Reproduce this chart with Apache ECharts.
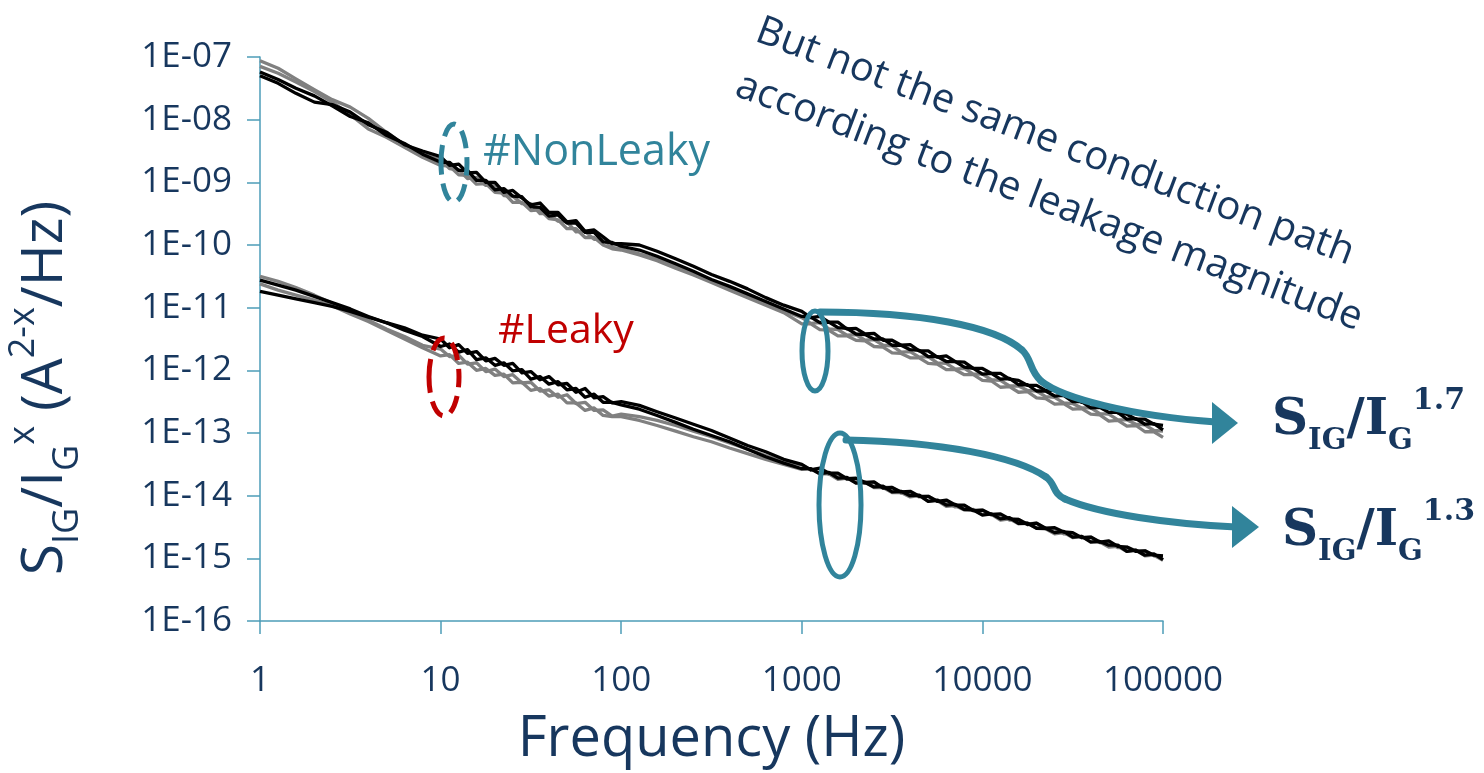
<!DOCTYPE html>
<html>
<head>
<meta charset="utf-8">
<script src="https://cdn.jsdelivr.net/npm/echarts@6/dist/echarts.min.js"></script>
<style>
  html, body { margin: 0; padding: 0; background: #ffffff; }
  #chart { width: 1484px; height: 773px; }
</style>
</head>
<body>
<div id="chart"></div>
<script>
// Frequency grid (Hz) shared by every spectrum
const freqHz = [1, 1.26, 1.58, 2, 2.51, 3.16, 3.98, 5.01, 6.31, 7.94,
  10, 11.2, 12.6, 14.1, 15.8, 17.8, 20, 22.4, 25.1, 28.2, 31.6, 35.5, 39.8, 44.7, 50.1, 56.2, 63.1, 70.8, 79.4, 89.1,
  100, 126, 158, 200, 251, 316, 398, 501, 631, 794,
  1000, 1122, 1259, 1413, 1585, 1778, 1995, 2239, 2512, 2818, 3162, 3548, 3981, 4467, 5012, 5623, 6310, 7079, 7943, 8913,
  10000, 11220, 12589, 14125, 15849, 17783, 19953, 22387, 25119, 28184, 31623, 35481, 39811, 44668, 50119, 56234, 63096, 70795, 79433, 89125, 100000];

// Normalised noise spectra, stored as decade exponents (log10 of S_IG/I_G^x)
// Non-leaky devices, normalised by I_G^1.7
const nonLeakyBlack1 = [-7.30,-7.42,-7.58,-7.72,-7.76,-7.88,-8.08,-8.20,-8.40,-8.50,
  -8.59,-8.73,-8.71,-8.85,-8.84,-9.00,-9.00,-9.16,-9.13,-9.25,-9.36,-9.33,-9.48,-9.48,-9.63,-9.61,-9.78,-9.76,-9.87,-9.98,
  -9.98,-10.00,-10.10,-10.22,-10.34,-10.47,-10.58,-10.70,-10.84,-10.96,
  -11.06,-11.16,-11.14,-11.23,-11.23,-11.34,-11.33,-11.42,-11.41,-11.52,-11.52,-11.60,-11.59,-11.69,-11.69,-11.79,-11.77,-11.86,-11.87,-11.97,
  -11.97,-12.05,-12.05,-12.14,-12.16,-12.24,-12.24,-12.32,-12.32,-12.40,-12.42,-12.51,-12.51,-12.59,-12.59,-12.68,-12.70,-12.78,-12.78,-12.86,-12.88];
const nonLeakyBlack2 = [-7.24,-7.36,-7.50,-7.62,-7.78,-7.95,-8.05,-8.25,-8.38,-8.55,
  -8.68,-8.68,-8.81,-8.81,-8.97,-8.97,-9.12,-9.10,-9.22,-9.23,-9.39,-9.40,-9.54,-9.52,-9.65,-9.65,-9.80,-9.80,-9.95,-9.96,
  -10.02,-10.08,-10.18,-10.30,-10.42,-10.55,-10.66,-10.78,-10.90,-11.02,
  -11.14,-11.15,-11.24,-11.23,-11.32,-11.33,-11.42,-11.43,-11.50,-11.50,-11.60,-11.60,-11.67,-11.68,-11.78,-11.78,-11.86,-11.86,-11.95,-11.97,
  -12.06,-12.05,-12.14,-12.13,-12.23,-12.23,-12.33,-12.33,-12.41,-12.40,-12.50,-12.50,-12.60,-12.59,-12.67,-12.67,-12.78,-12.77,-12.86,-12.85,-12.95];
const nonLeakyGray1 = [-7.06,-7.18,-7.35,-7.52,-7.68,-7.80,-7.98,-8.20,-8.40,-8.55,
  -8.64,-8.78,-8.80,-8.94,-8.92,-9.05,-9.05,-9.21,-9.22,-9.34,-9.34,-9.50,-9.50,-9.62,-9.63,-9.79,-9.78,-9.91,-9.91,-10.04,
  -10.06,-10.14,-10.22,-10.34,-10.46,-10.58,-10.70,-10.82,-10.93,-11.05,
  -11.16,-11.25,-11.24,-11.34,-11.35,-11.44,-11.43,-11.52,-11.51,-11.60,-11.61,-11.71,-11.70,-11.79,-11.78,-11.88,-11.89,-11.98,-11.97,-12.06,
  -12.06,-12.15,-12.16,-12.25,-12.25,-12.32,-12.33,-12.42,-12.43,-12.52,-12.53,-12.60,-12.60,-12.69,-12.70,-12.79,-12.79,-12.86,-12.87,-12.96,-12.97];
const nonLeakyGray2 = [-7.15,-7.26,-7.40,-7.55,-7.72,-7.92,-8.15,-8.28,-8.44,-8.60,
  -8.73,-8.74,-8.88,-8.89,-9.03,-9.02,-9.16,-9.17,-9.32,-9.32,-9.45,-9.44,-9.58,-9.60,-9.74,-9.74,-9.88,-9.88,-10.00,-10.06,
  -10.08,-10.16,-10.25,-10.37,-10.48,-10.60,-10.72,-10.84,-10.96,-11.08,
  -11.26,-11.26,-11.35,-11.36,-11.45,-11.45,-11.52,-11.53,-11.62,-11.63,-11.72,-11.73,-11.80,-11.80,-11.89,-11.90,-11.99,-11.99,-12.07,-12.07,
  -12.16,-12.17,-12.27,-12.26,-12.35,-12.34,-12.44,-12.45,-12.54,-12.53,-12.62,-12.61,-12.70,-12.71,-12.81,-12.80,-12.89,-12.88,-12.98,-12.98,-13.07];

// Leaky devices, normalised by I_G^1.3
const leakyBlack1 = [-10.56,-10.64,-10.72,-10.82,-10.92,-11.02,-11.14,-11.24,-11.32,-11.44,
  -11.50,-11.64,-11.59,-11.73,-11.70,-11.85,-11.81,-11.92,-11.89,-12.04,-12.02,-12.15,-12.10,-12.23,-12.21,-12.35,-12.29,-12.44,-12.42,-12.52,
  -12.50,-12.56,-12.66,-12.76,-12.86,-12.96,-13.08,-13.20,-13.30,-13.42,
  -13.50,-13.59,-13.56,-13.64,-13.64,-13.73,-13.72,-13.79,-13.78,-13.88,-13.87,-13.94,-13.93,-14.01,-14.01,-14.09,-14.07,-14.15,-14.15,-14.24,
  -14.23,-14.30,-14.29,-14.37,-14.38,-14.46,-14.44,-14.52,-14.51,-14.58,-14.59,-14.67,-14.66,-14.74,-14.72,-14.81,-14.82,-14.89,-14.88,-14.95,-14.96];
const leakyBlack2 = [-10.74,-10.80,-10.86,-10.92,-10.98,-11.06,-11.15,-11.24,-11.36,-11.46,
  -11.62,-11.58,-11.71,-11.67,-11.83,-11.80,-11.92,-11.88,-12.01,-11.99,-12.14,-12.10,-12.22,-12.18,-12.31,-12.29,-12.43,-12.38,-12.51,-12.51,
  -12.55,-12.62,-12.72,-12.83,-12.94,-13.04,-13.14,-13.26,-13.38,-13.48,
  -13.57,-13.57,-13.65,-13.63,-13.72,-13.71,-13.80,-13.79,-13.86,-13.85,-13.94,-13.93,-14.00,-13.99,-14.09,-14.07,-14.15,-14.14,-14.22,-14.23,
  -14.31,-14.29,-14.37,-14.35,-14.44,-14.44,-14.52,-14.52,-14.59,-14.57,-14.66,-14.65,-14.74,-14.73,-14.79,-14.79,-14.89,-14.87,-14.95,-14.93,-15.02];
const leakyGray1 = [-10.50,-10.58,-10.68,-10.80,-10.93,-11.06,-11.20,-11.34,-11.46,-11.60,
  -11.66,-11.78,-11.76,-11.90,-11.88,-12.02,-11.98,-12.10,-12.07,-12.20,-12.19,-12.33,-12.31,-12.43,-12.39,-12.53,-12.51,-12.64,-12.63,-12.73,
  -12.70,-12.74,-12.80,-12.88,-12.97,-13.06,-13.16,-13.26,-13.36,-13.46,
  -13.51,-13.59,-13.57,-13.66,-13.67,-13.74,-13.73,-13.80,-13.79,-13.87,-13.87,-13.96,-13.95,-14.02,-14.01,-14.09,-14.10,-14.18,-14.16,-14.24,
  -14.23,-14.31,-14.31,-14.39,-14.38,-14.45,-14.44,-14.53,-14.53,-14.61,-14.61,-14.67,-14.66,-14.75,-14.74,-14.83,-14.82,-14.88,-14.88,-14.96,-14.96];
const leakyGray2 = [-10.62,-10.72,-10.80,-10.88,-10.97,-11.10,-11.22,-11.36,-11.50,-11.64,
  -11.77,-11.75,-11.89,-11.87,-12.00,-11.97,-12.08,-12.06,-12.20,-12.19,-12.32,-12.29,-12.41,-12.38,-12.52,-12.52,-12.64,-12.60,-12.72,-12.74,
  -12.74,-12.80,-12.88,-12.97,-13.06,-13.14,-13.24,-13.33,-13.42,-13.50,
  -13.58,-13.57,-13.65,-13.65,-13.74,-13.72,-13.79,-13.78,-13.87,-13.87,-13.95,-13.95,-14.02,-14.00,-14.09,-14.08,-14.17,-14.16,-14.23,-14.22,
  -14.30,-14.30,-14.39,-14.37,-14.45,-14.44,-14.52,-14.53,-14.61,-14.59,-14.67,-14.65,-14.73,-14.74,-14.82,-14.81,-14.89,-14.87,-14.96,-14.95,-15.03];

// Axis tick labels
const xTickLabels = ['1', '10', '100', '1000', '10000', '100000'];
const yTickLabels = ['1E-07', '1E-08', '1E-09', '1E-10', '1E-11', '1E-12', '1E-13', '1E-14', '1E-15', '1E-16'];

const NAVY = '#17375E';
const TEAL = '#31849B';
const AXIS = '#4D9DB8';
const RED = '#C00000';
const FONT = "'Open Sans', 'Noto Sans', sans-serif";
const SERIF = "'DejaVu Serif', 'Liberation Serif', serif";

function toPoints(exps) {
  return freqHz.map((f, i) => [f, Math.pow(10, exps[i])]);
}

function spectrum(name, exps, color) {
  return {
    name: name,
    type: 'line',
    data: toPoints(exps),
    showSymbol: false,
    symbol: 'none',
    smooth: false,
    lineStyle: { color: color, width: 3.3, join: 'round' },
    emphasis: { disabled: true },
    animation: false
  };
}

const series = [
  spectrum('NonLeaky G1', nonLeakyGray1, '#808080'),
  spectrum('NonLeaky G2', nonLeakyGray2, '#808080'),
  spectrum('Leaky G1', leakyGray1, '#808080'),
  spectrum('Leaky G2', leakyGray2, '#808080'),
  spectrum('NonLeaky B1', nonLeakyBlack1, '#000000'),
  spectrum('NonLeaky B2', nonLeakyBlack2, '#000000'),
  spectrum('Leaky B1', leakyBlack1, '#000000'),
  spectrum('Leaky B2', leakyBlack2, '#000000')
];

// one cubic segment of a callout leader
function leader(p0, c1, c2, p1) {
  return {
    type: 'bezierCurve', z: 100,
    shape: { x1: p0[0], y1: p0[1], cpx1: c1[0], cpy1: c1[1], cpx2: c2[0], cpy2: c2[1], x2: p1[0], y2: p1[1] },
    style: { fill: null, stroke: TEAL, lineWidth: 7, lineCap: 'round' }
  };
}

function formulaLabel(x, y, power) {
  return {
    type: 'text', x: x, y: y, z: 100,
    style: {
      text: '{m|S}{sb|IG}{m|/I}{sb|G}{sp|' + power + '}',
      align: 'left', verticalAlign: 'middle',
      rich: {
        m: { fontFamily: SERIF, fontWeight: 'bold', fontSize: 50, lineHeight: 70, fill: NAVY },
        sb: { fontFamily: SERIF, fontWeight: 'bold', fontSize: 29, lineHeight: 29, verticalAlign: 'bottom', fill: NAVY },
        sp: { fontFamily: SERIF, fontWeight: 'bold', fontSize: 30, lineHeight: 58, verticalAlign: 'top', fill: NAVY }
      }
    }
  };
}

const chart = echarts.init(document.getElementById('chart'), null, { renderer: 'canvas' });

const option = {
  backgroundColor: '#ffffff',
  animation: false,
  grid: { left: 260, right: 321, top: 57, bottom: 151, containLabel: false },
  xAxis: {
    type: 'log',
    logBase: 10,
    min: 1,
    max: 100000,
    splitNumber: 5,
    name: 'Frequency (Hz)',
    nameLocation: 'middle',
    nameGap: 119,
    nameTextStyle: { fontFamily: FONT, fontSize: 56, color: NAVY, verticalAlign: 'middle' },
    axisLine: { show: true, lineStyle: { color: AXIS, width: 1.5 } },
    axisTick: { show: true, inside: false, length: 13, lineStyle: { color: AXIS, width: 1.5 } },
    minorTick: { show: false },
    splitLine: { show: false },
    axisLabel: {
      margin: 43,
      fontFamily: FONT,
      fontSize: 35,
      color: NAVY,
      formatter: function (v) {
        const k = Math.round(Math.log10(v));
        return xTickLabels[k] !== undefined ? xTickLabels[k] : '';
      }
    }
  },
  yAxis: {
    type: 'log',
    logBase: 10,
    min: 1e-16,
    max: 1e-7,
    splitNumber: 9,
    axisLine: { show: true, lineStyle: { color: AXIS, width: 1.5 } },
    axisTick: { show: true, inside: false, length: 13, lineStyle: { color: AXIS, width: 1.5 } },
    minorTick: { show: false },
    splitLine: { show: false },
    axisLabel: {
      margin: 28,
      fontFamily: FONT,
      fontSize: 35,
      color: NAVY,
      formatter: function (v) {
        const k = -7 - Math.round(Math.log10(v));
        return yTickLabels[k] !== undefined ? yTickLabels[k] : '';
      }
    }
  },
  series: series,
  graphic: {
    elements: [
      // vertical axis title with sub- and superscripts
      {
        type: 'text', x: 46, y: 388, rotation: Math.PI / 2, z: 100,
        style: {
          text: '{m|S}{sb|IG}{m|/I}{sb|G}{sp|x}{m| (A}{sp|2-x}{m|/Hz)}',
          align: 'center', verticalAlign: 'middle',
          rich: {
            m: { fontFamily: FONT, fontSize: 57, lineHeight: 80, fill: NAVY },
            sb: { fontFamily: FONT, fontSize: 36, lineHeight: 36, verticalAlign: 'bottom', fill: NAVY },
            sp: { fontFamily: FONT, fontSize: 36, lineHeight: 48, verticalAlign: 'top', fill: NAVY }
          }
        }
      },
      // group labels
      {
        type: 'text', x: 483, y: 153, z: 100,
        style: { text: '#NonLeaky', fontFamily: FONT, fontSize: 43, fill: TEAL, align: 'left', verticalAlign: 'middle' }
      },
      {
        type: 'text', x: 498, y: 331, z: 100,
        style: { text: '#Leaky', fontFamily: FONT, fontSize: 41, fill: RED, align: 'left', verticalAlign: 'middle' }
      },
      // dashed markers around 10 Hz
      {
        type: 'ellipse', z: 100,
        shape: { cx: 454, cy: 163, rx: 13, ry: 39 },
        style: { fill: null, stroke: TEAL, lineWidth: 5, lineDash: [18, 9] }
      },
      {
        type: 'ellipse', z: 100,
        shape: { cx: 444, cy: 377, rx: 15, ry: 39 },
        style: { fill: null, stroke: RED, lineWidth: 5, lineDash: [18, 9] }
      },
      // slanted comment
      {
        type: 'text', x: 1055, y: 142, rotation: -0.361, z: 100,
        style: { text: 'But not the same conduction path', fontFamily: FONT, fontSize: 40, fill: NAVY, align: 'center', verticalAlign: 'middle' }
      },
      {
        type: 'text', x: 1049, y: 202, rotation: -0.361, z: 100,
        style: { text: 'according to the leakage magnitude', fontFamily: FONT, fontSize: 40, fill: NAVY, align: 'center', verticalAlign: 'middle' }
      },
      // callout: upper group
      {
        type: 'ellipse', z: 100,
        shape: { cx: 815, cy: 351, rx: 13, ry: 40 },
        style: { fill: null, stroke: TEAL, lineWidth: 5 }
      },
      leader([820, 312], [920, 312], [995, 326], [1022, 350]),
      leader([1022, 350], [1032, 359], [1029, 370], [1041, 381]),
      leader([1041, 381], [1062, 398], [1130, 416], [1216, 422]),
      {
        type: 'polygon', z: 100,
        shape: { points: [[1212, 402], [1238, 423], [1212, 444]] },
        style: { fill: TEAL }
      },
      // callout: lower group
      {
        type: 'ellipse', z: 100,
        shape: { cx: 840, cy: 505, rx: 21, ry: 72 },
        style: { fill: null, stroke: TEAL, lineWidth: 5 }
      },
      leader([846, 440], [940, 442], [1015, 456], [1046, 477]),
      leader([1046, 477], [1056, 484], [1052, 493], [1065, 499]),
      leader([1065, 499], [1100, 514], [1170, 524], [1236, 527]),
      {
        type: 'polygon', z: 100,
        shape: { points: [[1232, 506], [1259, 527], [1232, 548]] },
        style: { fill: TEAL }
      },
      // normalisation labels
      formulaLabel(1272, 421, '1.7'),
      formulaLabel(1282, 532, '1.3')
    ]
  }
};

chart.setOption(option);
</script>
</body>
</html>
